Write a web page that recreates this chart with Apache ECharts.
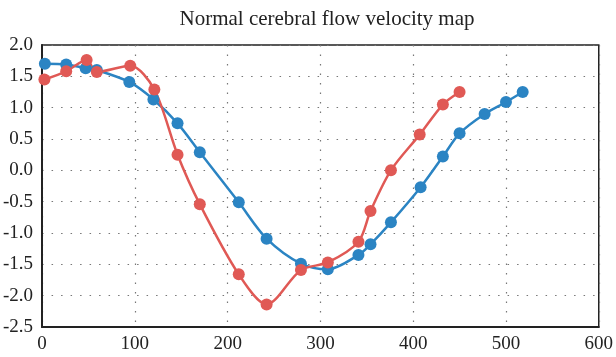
<!DOCTYPE html>
<html>
<head>
<meta charset="utf-8">
<script src="https://cdn.jsdelivr.net/npm/echarts@6/dist/echarts.min.js"></script>
<style>
  html, body { margin: 0; padding: 0; background: #fff; }
  #chart { width: 616px; height: 357px; }
</style>
</head>
<body>
<div id="chart"></div>
<script>
const titleText = "Normal cerebral flow velocity map";

const blueX = [3, 26, 47, 59, 94, 120, 146, 170, 212, 242, 279, 308, 341, 354, 376, 408, 432, 450, 477, 500, 518];
const blueY = [1.70, 1.69, 1.63, 1.60, 1.41, 1.13, 0.75, 0.29, -0.51, -1.09, -1.49, -1.58, -1.35, -1.18, -0.83, -0.27, 0.22, 0.59, 0.90, 1.09, 1.25];

const redX = [2.5, 26, 48, 59, 95, 121, 146, 170, 212, 242, 279, 308, 341, 354, 376, 407, 432, 450];
const redY = [1.45, 1.58, 1.76, 1.57, 1.67, 1.29, 0.25, -0.54, -1.66, -2.14, -1.59, -1.47, -1.14, -0.65, 0.00, 0.57, 1.05, 1.25];

const serif = "'Liberation Serif', 'DejaVu Serif', serif";
const pair = (xs, ys) => xs.map((x, i) => [x, ys[i]]);

const chart = echarts.init(document.getElementById("chart"));
chart.setOption({
  animation: false,
  backgroundColor: "#fff",
  title: {
    text: titleText,
    left: 322,
    top: 4,
    textAlign: "center",
    textStyle: { fontFamily: serif, fontWeight: "normal", fontSize: 21, color: "#222" },
  },
  grid: { left: 42, right: 16, top: 45, bottom: 30, show: true, borderColor: "#222", borderWidth: 1.5 },
  xAxis: {
    type: "value",
    min: 0,
    max: 600,
    interval: 100,
    axisLine: { show: true, onZero: false, lineStyle: { color: "#222", width: 2 } },
    axisTick: { show: false },
    axisLabel: { color: "#222", fontFamily: serif, fontSize: 19, margin: 8 },
    splitLine: { show: true, lineStyle: { color: "#777", type: [1.5, 8], width: 1.2 } },
  },
  yAxis: {
    type: "value",
    min: -2.5,
    max: 2.0,
    interval: 0.5,
    axisLine: { show: true, onZero: false, lineStyle: { color: "#222", width: 2 } },
    axisTick: { show: false },
    axisLabel: { color: "#222", fontFamily: serif, fontSize: 19, margin: 9, formatter: (v) => v.toFixed(1) },
    splitLine: { show: true, lineStyle: { color: "#777", type: [1.5, 8], width: 1.2 } },
  },
  series: [
    {
      name: "blue", type: "line", smooth: 0.3, data: pair(blueX, blueY),
      symbol: "circle", symbolSize: 12,
      lineStyle: { color: "#2b84c3", width: 2.5 },
      itemStyle: { color: "#2b84c3" },
    },
    {
      name: "red", type: "line", smooth: 0.3, data: pair(redX, redY),
      symbol: "circle", symbolSize: 12,
      lineStyle: { color: "#e05955", width: 2.5 },
      itemStyle: { color: "#e05955" },
    },
  ],
});
</script>
</body>
</html>
